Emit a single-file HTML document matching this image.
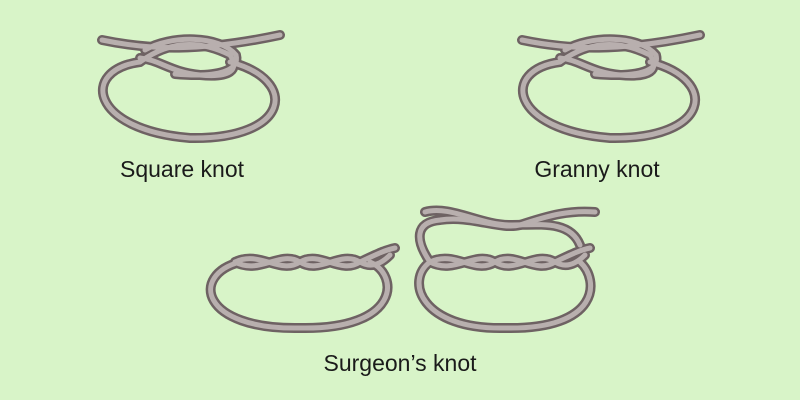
<!DOCTYPE html>
<html><head><meta charset="utf-8"><style>
html,body{margin:0;padding:0;width:800px;height:400px;overflow:hidden;background:#d8f4c8}
svg{display:block}
.o{fill:none;stroke:#6e6263;stroke-width:10;stroke-linecap:round}
.i{fill:none;stroke:#b8afae;stroke-width:5;stroke-linecap:round}
text{font-family:"Liberation Sans",sans-serif;font-size:23px;fill:#1a1a1a}
</style></head><body>
<svg width="800" height="400" viewBox="0 0 800 400">
<defs>
<g id="sq">
<path d="M140,62 C80,70 90,130 190,138 C290,140 300,80 230,62"/>
<path d="M102,40 C150,50 200,52 280,35"/>
<path d="M140,62 C170,40 200,40 230,55 C240,70 230,78 200,75 C170,72 160,60 140,58"/>
<path d="M145,50 C170,35 220,35 236,55 C240,70 220,78 175,74"/>
</g>
<g id="tw">
<path d="M235,262 C260,250 280,275 300,262 C320,250 340,275 360,262 C375,255 385,250 395,248"/>
<path d="M235,262 C260,275 280,250 300,262 C320,275 340,250 360,262 C370,268 380,265 390,255"/>
</g>
</defs>
<g class="o"><use href="#sq"/><use href="#sq" x="420"/>
<path d="M240,262 C190,275 200,330 300,328 C400,330 400,275 370,262"/><use href="#tw"/>
<path d="M430,262 C405,280 420,330 505,328 C600,330 600,280 580,262"/><use href="#tw" x="195"/>
<path d="M430,262 C415,240 415,222 440,220 C470,215 500,230 520,225 C550,215 570,210 595,212"/>
<path d="M425,212 C450,205 480,225 510,225 C540,225 570,220 580,245"/>
</g>
<g class="i"><use href="#sq"/><use href="#sq" x="420"/>
<path d="M240,262 C190,275 200,330 300,328 C400,330 400,275 370,262"/><use href="#tw"/>
<path d="M430,262 C405,280 420,330 505,328 C600,330 600,280 580,262"/><use href="#tw" x="195"/>
<path d="M430,262 C415,240 415,222 440,220 C470,215 500,230 520,225 C550,215 570,210 595,212"/>
<path d="M425,212 C450,205 480,225 510,225 C540,225 570,220 580,245"/>
</g>
<text x="182" y="177" text-anchor="middle">Square knot</text>
<text x="597" y="177" text-anchor="middle">Granny knot</text>
<text x="400" y="371" text-anchor="middle">Surgeon’s knot</text>
</svg>
</body></html>
